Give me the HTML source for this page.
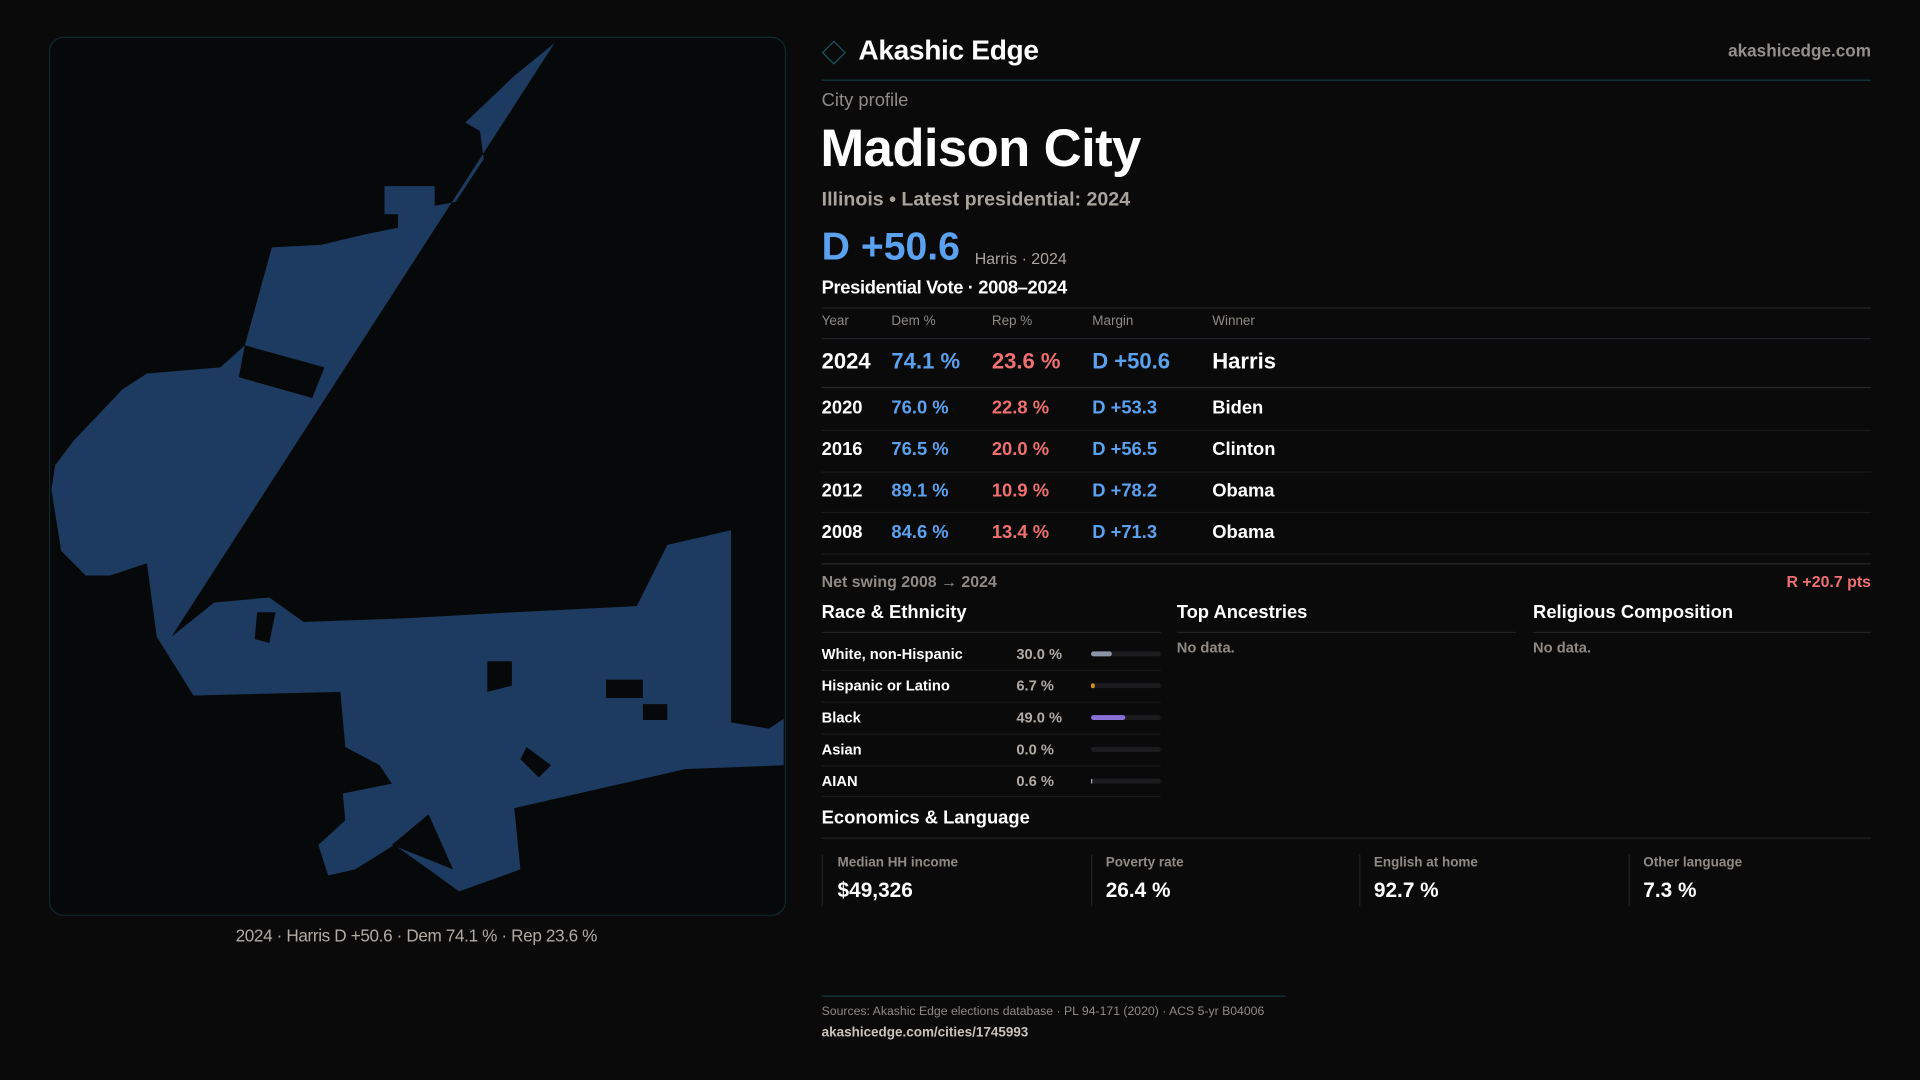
<!DOCTYPE html>
<html><head><meta charset="utf-8"><style>
html,body{margin:0;padding:0;background:#0a0a0b;width:1920px;height:1080px;overflow:hidden}
#s{position:absolute;left:0;top:0;width:1568px;height:882px;transform:scale(1.22449);transform-origin:0 0;font-family:"Liberation Sans",sans-serif;color:#fff}
.t{position:absolute;white-space:nowrap;line-height:1;transform:translateY(-50%)}
.l{position:absolute;height:1px;background:#222226}
.g{color:#8f8a85}
.b{color:#5aa2f0}.r{color:#f07070}
.bar{position:absolute;height:4px;width:57px;left:891px;background:#1c1c1f;border-radius:2px}
.bar i{position:absolute;left:0;top:0;height:4px;border-radius:2px}
.box{position:absolute;top:698px;height:42px;border-left:1px solid #222226}
</style></head><body><div id="s">
<div style="position:absolute;left:40px;top:30px;width:600px;height:716px;border:1px solid #10292d;border-radius:12px;background:#070809"></div>
<svg style="position:absolute;left:0;top:0" width="1568" height="882"><g fill="#1d3b60">
<path d="M453,35 L420,62 L380,100 L392,107 L395,130 L372,165 L355,168 L355,152 L314,152 L314,175 L325,175 L325,186 L300,191 L262,200 L222,202 L200,282 L180,300 L120,305 L100,318 L60,360 L45,380 L42,400 L50,450 L70,470 L90,470 L120,460 L128,520 L158,568 L250,565 L250,520 L175,520 L150,520 L140,520 Z"/>
<path d="M140,520 L175,492 L220,488 L248,508 L330,505 L420,500 L520,495 L545,445 L597,433 L597,590 L628,595 L640,587 L640,625 L560,628 L420,660 L425,710 L375,728 L350,710 L322,690 L290,710 L268,715 L260,690 L282,670 L280,648 L320,640 L310,625 L282,610 L278,565 L158,568 Z"/>
</g><g fill="#070809">
<path d="M200,282 L265,300 L255,325 L195,308 Z"/>
<path d="M398,540 L418,540 L418,560 L398,565 Z"/><path d="M495,555 L525,555 L525,570 L495,570 Z"/>
<path d="M430,610 L450,625 L440,635 L425,620 Z"/><path d="M350,665 L370,710 L320,690 Z"/>
<path d="M525,575 L545,575 L545,588 L525,588 Z"/><path d="M210,500 L225,500 L220,525 L208,522 Z"/>
</g></svg>
<div class="t" style="left:0;width:680px;text-align:center;top:764px;font-size:14px;color:#b0aaa4;letter-spacing:-0.3px">2024 · Harris D +50.6 · Dem 74.1 % · Rep 23.6 %</div>
<div style="position:absolute;left:674px;top:36px;width:12px;height:12px;border:1.5px solid #1a5560;transform:rotate(45deg)"></div>
<div class="t" style="left:701px;top:41px;font-size:23px;font-weight:bold;letter-spacing:-0.3px">Akashic Edge</div>
<div class="t" style="right:40px;top:41px;font-size:14px;font-weight:bold;color:#958f8a">akashicedge.com</div>
<div class="l" style="left:671px;width:857px;top:65px;background:#123a40"></div>
<div class="t g" style="left:671px;top:82px;font-size:15px">City profile</div>
<div class="t" style="left:670px;top:122px;font-size:43px;font-weight:bold;letter-spacing:-0.5px">Madison City</div>
<div class="t" style="left:671px;top:164px;font-size:16px;color:#a9a39d;font-weight:bold">Illinois • Latest presidential: 2024</div>
<div class="t b" style="left:671px;top:201px;font-size:32px;font-weight:bold">D +50.6</div>
<div class="t g" style="left:796px;top:211px;font-size:13px;color:#aaa49e">Harris · 2024</div>
<div class="t" style="left:671px;top:235px;font-size:15px;font-weight:bold;letter-spacing:-0.3px">Presidential Vote · 2008–2024</div>
<div class="l" style="left:671px;width:857px;top:251px"></div>
<div class="t g" style="left:671px;top:263px;font-size:11px">Year</div>
<div class="t g" style="left:728px;top:263px;font-size:11px">Dem %</div>
<div class="t g" style="left:810px;top:263px;font-size:11px">Rep %</div>
<div class="t g" style="left:892px;top:263px;font-size:11px">Margin</div>
<div class="t g" style="left:990px;top:263px;font-size:11px">Winner</div>
<div class="l" style="left:671px;width:857px;top:276px"></div>
<div style="font-size:18px;font-weight:bold">
<div class="t" style="left:671px;top:295px">2024</div><div class="t b" style="left:728px;top:295px">74.1 %</div><div class="t r" style="left:810px;top:295px">23.6 %</div><div class="t b" style="left:892px;top:295px">D +50.6</div><div class="t" style="left:990px;top:295px">Harris</div></div>
<div class="l" style="left:671px;width:857px;top:316px;background:#2a2a2e"></div>
<div style="font-size:15px;font-weight:bold">
<div class="t" style="left:671px;top:333px">2020</div><div class="t b" style="left:728px;top:333px">76.0 %</div><div class="t r" style="left:810px;top:333px">22.8 %</div><div class="t b" style="left:892px;top:333px">D +53.3</div><div class="t" style="left:990px;top:333px">Biden</div>
<div class="t" style="left:671px;top:367px">2016</div><div class="t b" style="left:728px;top:367px">76.5 %</div><div class="t r" style="left:810px;top:367px">20.0 %</div><div class="t b" style="left:892px;top:367px">D +56.5</div><div class="t" style="left:990px;top:367px">Clinton</div>
<div class="t" style="left:671px;top:401px">2012</div><div class="t b" style="left:728px;top:401px">89.1 %</div><div class="t r" style="left:810px;top:401px">10.9 %</div><div class="t b" style="left:892px;top:401px">D +78.2</div><div class="t" style="left:990px;top:401px">Obama</div>
<div class="t" style="left:671px;top:435px">2008</div><div class="t b" style="left:728px;top:435px">84.6 %</div><div class="t r" style="left:810px;top:435px">13.4 %</div><div class="t b" style="left:892px;top:435px">D +71.3</div><div class="t" style="left:990px;top:435px">Obama</div></div>
<div class="l" style="left:671px;width:857px;top:351px;background:#1a1a1d"></div>
<div class="l" style="left:671px;width:857px;top:385px;background:#1a1a1d"></div>
<div class="l" style="left:671px;width:857px;top:418px;background:#1a1a1d"></div>
<div class="l" style="left:671px;width:857px;top:452px;background:#1a1a1d"></div>
<div class="l" style="left:671px;width:857px;top:460px;background:#2a2a2e"></div>
<div class="t g" style="left:671px;top:475px;font-size:13px;font-weight:bold">Net swing 2008 → 2024</div>
<div class="t r" style="right:40px;top:475px;font-size:13px;font-weight:bold">R +20.7 pts</div>
<div class="t" style="left:671px;top:500px;font-size:15px;font-weight:bold">Race &amp; Ethnicity</div>
<div class="t" style="left:961px;top:500px;font-size:15px;font-weight:bold">Top Ancestries</div>
<div class="t" style="left:1252px;top:500px;font-size:15px;font-weight:bold">Religious Composition</div>
<div class="l" style="left:671px;width:277px;top:516px"></div>
<div class="l" style="left:961px;width:277px;top:516px"></div>
<div class="l" style="left:1252px;width:276px;top:516px"></div>
<div class="t g" style="left:961px;top:529px;font-size:12px;font-weight:bold">No data.</div>
<div class="t g" style="left:1252px;top:529px;font-size:12px;font-weight:bold">No data.</div>
<div style="font-size:12px;font-weight:bold">
<div class="t" style="left:671px;top:534px">White, non-Hispanic</div><div class="t g" style="left:830px;top:534px;color:#b0aaa4">30.0 %</div>
<div class="t" style="left:671px;top:560px">Hispanic or Latino</div><div class="t g" style="left:830px;top:560px;color:#b0aaa4">6.7 %</div>
<div class="t" style="left:671px;top:586px">Black</div><div class="t g" style="left:830px;top:586px;color:#b0aaa4">49.0 %</div>
<div class="t" style="left:671px;top:612px">Asian</div><div class="t g" style="left:830px;top:612px;color:#b0aaa4">0.0 %</div>
<div class="t" style="left:671px;top:638px">AIAN</div><div class="t g" style="left:830px;top:638px;color:#b0aaa4">0.6 %</div></div>
<div class="bar" style="top:532px"><i style="width:17px;background:#8a94a6"></i></div>
<div class="bar" style="top:558px"><i style="width:3px;background:#d89020"></i></div>
<div class="bar" style="top:584px"><i style="width:28px;background:#8b6fd8"></i></div>
<div class="bar" style="top:610px"></div>
<div class="bar" style="top:636px"><i style="width:1px;background:#aaa"></i></div>
<div class="l" style="left:671px;width:277px;top:547px;background:#1a1a1d"></div>
<div class="l" style="left:671px;width:277px;top:573px;background:#1a1a1d"></div>
<div class="l" style="left:671px;width:277px;top:599px;background:#1a1a1d"></div>
<div class="l" style="left:671px;width:277px;top:625px;background:#1a1a1d"></div>
<div class="l" style="left:671px;width:277px;top:650px;background:#1a1a1d"></div>
<div class="t" style="left:671px;top:668px;font-size:15px;font-weight:bold">Economics &amp; Language</div>
<div class="l" style="left:671px;width:857px;top:684px"></div>
<div class="box" style="left:671px"></div><div class="box" style="left:891px"></div><div class="box" style="left:1110px"></div><div class="box" style="left:1330px"></div>
<div class="t g" style="left:684px;top:705px;font-size:11px;font-weight:bold">Median HH income</div><div class="t" style="left:684px;top:727px;font-size:17px;font-weight:bold">$49,326</div>
<div class="t g" style="left:903px;top:705px;font-size:11px;font-weight:bold">Poverty rate</div><div class="t" style="left:903px;top:727px;font-size:17px;font-weight:bold">26.4 %</div>
<div class="t g" style="left:1122px;top:705px;font-size:11px;font-weight:bold">English at home</div><div class="t" style="left:1122px;top:727px;font-size:17px;font-weight:bold">92.7 %</div>
<div class="t g" style="left:1342px;top:705px;font-size:11px;font-weight:bold">Other language</div><div class="t" style="left:1342px;top:727px;font-size:17px;font-weight:bold">7.3 %</div>
<div class="l" style="left:671px;width:379px;top:813px;background:#123a40"></div>
<div class="t g" style="left:671px;top:827px;font-size:10px">Sources: Akashic Edge elections database · PL 94-171 (2020) · ACS 5-yr B04006</div>
<div class="t" style="left:671px;top:844px;font-size:11px;color:#c8c2bc;font-weight:bold">akashicedge.com/cities/1745993</div>
</div></body></html>
